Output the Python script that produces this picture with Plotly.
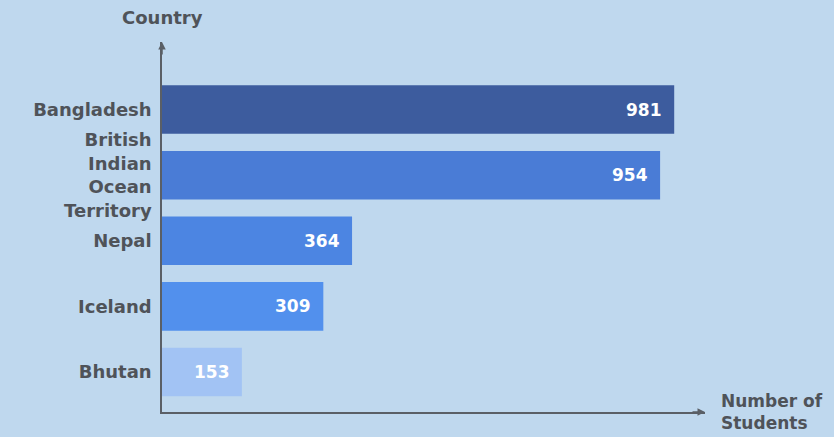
import plotly.graph_objects as go

countries = ["Bangladesh", "British<br>Indian<br>Ocean<br>Territory", "Nepal", "Iceland", "Bhutan"]
students = [981, 954, 364, 309, 153]
bar_colors = ["#3d5c9e", "#4a7cd6", "#4c85e2", "#5290ed", "#a2c3f4"]

axis_color = "#5a5f66"
text_color = "#4f5359"
font_family = "DejaVu Sans"

fig = go.Figure()
fig.add_trace(go.Bar(
    x=students, y=countries, orientation="h",
    marker=dict(color=bar_colors, line=dict(width=0)),
    width=0.74, hoverinfo="skip",
))

# value labels just inside the bar ends
for name, val in zip(countries, students):
    fig.add_annotation(x=val, y=name, text=str(val), showarrow=False,
                       xanchor="right", xshift=-10,
                       font=dict(family=font_family, size=17, color="white", weight="bold"))

# axis arrow heads
fig.add_annotation(x=0, y=1, xref="x domain", yref="y domain", ax=0, ay=14,
                   showarrow=True, arrowhead=2, arrowsize=1, arrowwidth=1.5, arrowcolor=axis_color, text="")
fig.add_annotation(x=1, y=0, xref="x domain", yref="y domain", ax=-14, ay=0,
                   showarrow=True, arrowhead=2, arrowsize=1, arrowwidth=1.5, arrowcolor=axis_color, text="")

# axis titles
fig.add_annotation(x=0, y=1, xref="x domain", yref="y domain", yshift=12, text="Country",
                   showarrow=False, xanchor="center", yanchor="bottom",
                   font=dict(family=font_family, size=18, color=text_color, weight="bold"))
fig.add_annotation(x=1, y=0, xref="x domain", yref="y domain", xshift=14, text="Number of<br>Students",
                   showarrow=False, xanchor="left", yanchor="middle", align="left",
                   font=dict(family=font_family, size=17, color=text_color, weight="bold"))

fig.update_layout(
    width=834, height=437,
    margin=dict(l=162, r=129, t=42, b=25),
    paper_bgcolor="#bfd8ee", plot_bgcolor="#bfd8ee",
    showlegend=False,
    xaxis=dict(range=[0, 1040], showgrid=False, zeroline=False, showticklabels=False,
               showline=True, linecolor=axis_color, linewidth=1.5, ticks=""),
    yaxis=dict(range=[4.61, -1.03], showgrid=False, zeroline=False, ticks="",
               showline=True, linecolor=axis_color, linewidth=1.5, ticklabelstandoff=5,
               tickfont=dict(family=font_family, size=18, color=text_color, weight="bold")),
)

fig.write_html("out.html", config={"displayModeBar": False},
               post_script="document.body.style.margin='0';")
